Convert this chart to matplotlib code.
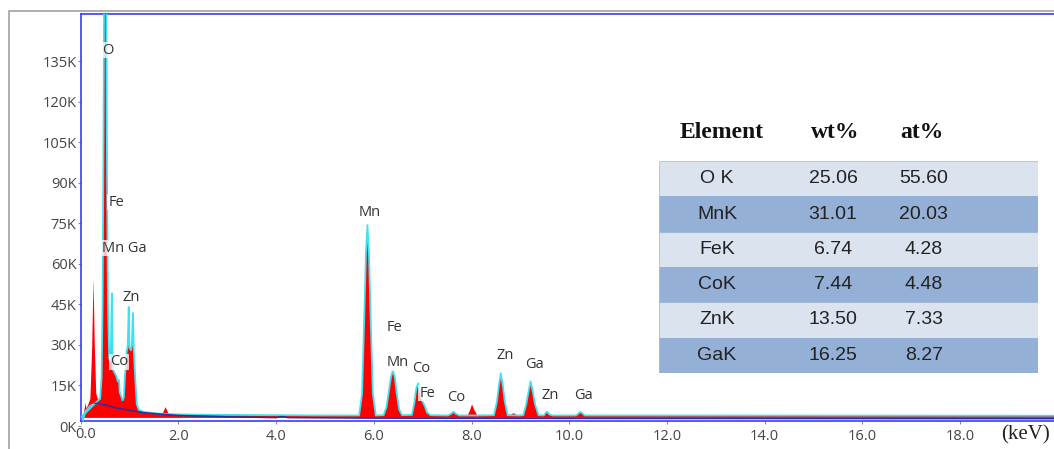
import numpy as np
import matplotlib
matplotlib.use("Agg")
import matplotlib.pyplot as plt
from matplotlib.patches import Rectangle

# measured EDS spectrum (keV, counts)
spectrum_kev = [0.00, 0.05, 0.08, 0.10, 0.12, 0.16, 0.20, 0.235, 0.265, 0.29, 0.32, 0.36,
                0.40, 0.43, 0.45, 0.47, 0.49, 0.52, 0.54, 0.56, 0.585, 0.61, 0.625, 0.64,
                0.655, 0.67, 0.70, 0.73, 0.76, 0.785, 0.80, 0.83, 0.86, 0.885, 0.91, 0.94,
                0.965, 0.985, 1.00, 1.03, 1.05, 1.07, 1.09, 1.12, 1.15, 1.19, 1.30, 1.60,
                1.68, 1.74, 1.80, 2.00, 3.00, 4.00, 5.00, 5.70, 5.76, 5.80, 5.84, 5.87,
                5.90, 5.94, 5.98, 6.04, 6.20, 6.26, 6.31, 6.35, 6.39, 6.43, 6.47, 6.52,
                6.58, 6.78, 6.83, 6.87, 6.91, 6.95, 6.99, 7.04, 7.09, 7.16, 7.52, 7.58,
                7.63, 7.68, 7.75, 7.92, 7.97, 8.01, 8.06, 8.12, 8.46, 8.52, 8.56, 8.60,
                8.64, 8.68, 8.74, 8.82, 8.86, 8.91, 8.97, 9.06, 9.12, 9.17, 9.21, 9.25,
                9.30, 9.37, 9.48, 9.54, 9.60, 9.67, 10.14, 10.23, 10.32, 20.00]
spectrum_counts = [3000, 3500, 6000, 8500, 6500, 8000, 10000, 28000, 54500, 30000, 12000, 9500,
                   10000, 18000, 45000, 110000, 200000, 200000, 95000, 45000, 25000, 24000, 33000, 49000,
                   27000, 20500, 19500, 18500, 16500, 17000, 12500, 11000, 9500, 10500, 19000, 27000,
                   30000, 44000, 29000, 28000, 30000, 41800, 27000, 17000, 8000, 6000, 5200, 4600,
                   4600, 7000, 4500, 4300, 4100, 4000, 3900, 3900, 12000, 37000, 64000, 74300,
                   64000, 37000, 12000, 3900, 4000, 7000, 13000, 18000, 20700, 18000, 12000, 6000,
                   4000, 4100, 8500, 14000, 15800, 12500, 9200, 7500, 5000, 4000, 3900, 4500,
                   5300, 4500, 3900, 3900, 5800, 8000, 5800, 3900, 4000, 9000, 15000, 19500,
                   15000, 9000, 4000, 4300, 4800, 4200, 3900, 4000, 8000, 13000, 16500, 13000,
                   8000, 4000, 3900, 5300, 4200, 3900, 3900, 5200, 3900, 3800]

# continuum background
bg_kev = [0.05, 0.10, 0.20, 0.30, 0.35, 0.50, 0.70, 1.00, 1.30, 1.70, 2.00, 3.00,
          4.00, 4.12, 4.25, 6.00, 10.0, 20.0]
bg_counts = [2200, 5500, 7500, 8300, 8400, 7800, 6800, 5800, 4900, 4300, 3900, 3400,
             3100, 3500, 3100, 2900, 2800, 2700]

# peaks left out of the fit (C, Si, Cu ...)
unfit_ranges = [(0.0, 0.35), (1.65, 1.84), (7.93, 8.11), (8.78, 8.95)]

peak_labels = ["O", "Fe", "Mn Ga", "Zn", "Co", "Mn", "Fe", "Mn", "Co", "Fe", "Co",
               "Zn", "Ga", "Zn", "Ga"]
label_kev = [0.561, 0.725, 0.898, 1.031, 0.786, 5.923, 6.433, 6.495, 6.966, 7.089, 7.683,
             8.686, 9.279, 9.607, 10.282]
label_counts = [139000, 82800, 65800, 47700, 23700, 78800, 36600, 23400, 21400, 12200, 10700,
                25900, 22900, 11100, 11100]

# quantification table
elements = ["O K", "MnK", "FeK", "CoK", "ZnK", "GaK"]
wt_pct = [25.06, 31.01, 6.74, 7.44, 13.50, 16.25]
at_pct = [55.60, 20.03, 4.28, 4.48, 7.33, 8.27]

W, H = 1054, 449
fig = plt.figure(figsize=(W / 100, H / 100), dpi=100)
ax = fig.add_axes([80.6 / W, 23 / H, (W - 80.6) / W, 412 / H])
ax.set_xlim(0, 19.92)
ax.set_ylim(0, 152400)

kev = np.array(spectrum_kev)
counts = np.array(spectrum_counts)
bkev = np.array(bg_kev)
bcounts = np.array(bg_counts)

ax.fill_between(kev, counts, 3000, color="#ff0000", lw=0, zorder=2)

keep = np.ones(len(kev), bool)
for lo, hi in unfit_ranges:
    keep &= ~((kev > lo) & (kev < hi))
low = bkev <= 0.35
ax.plot(bkev[low], bcounts[low], color="#3fe0ef", lw=1.3, zorder=3)
ax.plot(kev[keep], counts[keep], color="#3fe0ef", lw=1.3, zorder=3, solid_joinstyle="round")
ax.plot(bkev[bkev >= 0.3], bcounts[bkev >= 0.3], color="#2b2ba0", lw=1.1, zorder=4)

for name, x, y in zip(peak_labels, label_kev, label_counts):
    ax.text(x, y, name, ha="center", va="center", fontsize=10.5, color="#333333",
            family="Open Sans", zorder=6,
            bbox=dict(boxstyle="square,pad=0.05", fc="white", ec="none", alpha=0.75))

# axes frame
for side in ["left", "top", "bottom"]:
    ax.spines[side].set_color("#3a3aff")
    ax.spines[side].set_linewidth(1.2)
ax.spines["right"].set_visible(False)
ax.spines["bottom"].set_position(("data", 1850))
ax.spines["left"].set_bounds(1850, 152400)

xt = np.arange(0, 20, 2)
ax.set_xticks(xt)
ax.set_xticklabels([""] + [f"{v:.1f}" for v in xt[1:]])
yt = np.arange(0, 150000, 15000)
ax.set_yticks(yt)
ax.set_yticklabels([f"{v // 1000}K" for v in yt])
ax.tick_params(length=2, width=0.8, color="#8888aa", labelsize=10.5, labelcolor="#444444")
ax.tick_params(axis="x", pad=4)
ax.tick_params(axis="y", pad=1)
for lab in ax.get_xticklabels() + ax.get_yticklabels():
    lab.set_family("Open Sans")
ax.annotate("0.0", xy=(0, 1850), xytext=(5, -14), textcoords="offset pixels",
            ha="center", va="center", fontsize=10.5, color="#444444", family="Open Sans")

fig.text(1025 / W, 1 - 435 / H, "(keV)", ha="center", va="center", fontsize=15,
         family="Liberation Serif", color="#222222")

# outer grey frame
fig.add_artist(Rectangle((9 / W, -0.2), 1.2, 1.2 - 11 / H, transform=fig.transFigure,
                         fill=False, ec="#a8a8a8", lw=1.3))

# composition table
tab = fig.add_axes([659 / W, 1 - 373 / H, (1038 - 659) / W, (373 - 161) / H])
tab.set_xlim(0, 1)
tab.set_ylim(len(elements) - 0.5, -0.5)
tab.axis("off")
rows = np.arange(len(elements))
tab.barh(rows, 1, height=1, left=0, color=["#dbe3ef", "#95b0d6"] * 3,
         edgecolor="#8aa6cf", linewidth=0.4)
for r, (el, wt, at) in enumerate(zip(elements, wt_pct, at_pct)):
    for cx, txt in [(0.153, el), (0.459, f"{wt:.2f}"), (0.699, f"{at:.2f}")]:
        tab.text(cx, r, txt, ha="center", va="center", fontsize=14, color="#222222",
                 family="Liberation Sans")

for cx, txt in [(722, "Element"), (835, "wt%"), (922, "at%")]:
    fig.text(cx / W, 1 - 132 / H, txt, ha="center", va="center", fontsize=17,
             fontweight="bold", family="Liberation Serif", color="#111111")

fig.savefig("out.png", dpi=100)
